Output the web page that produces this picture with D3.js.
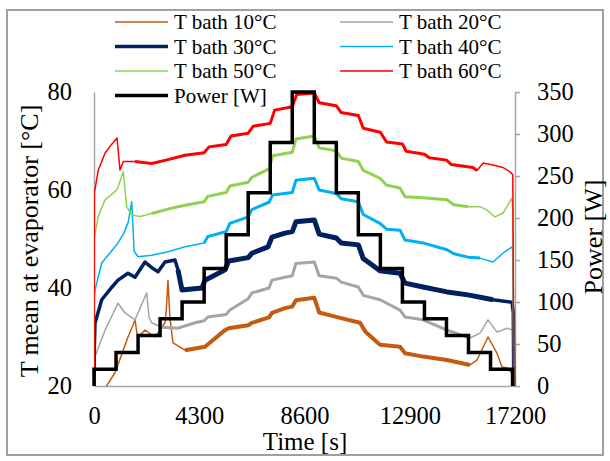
<!DOCTYPE html>
<html><head><meta charset="utf-8">
<script src="https://cdn.jsdelivr.net/npm/d3@7"></script>
<style>
body{margin:0;background:#fff;}
svg{display:block;}
</style>
</head><body>
<svg id="chart" width="610" height="461"></svg>
<script>
// ---------------- DATA ----------------
const seriesLabels = ["T bath 10°C","T bath 20°C","T bath 30°C","T bath 40°C","T bath 50°C","T bath 60°C"];

const time10 = [420, 858, 1100, 1389, 1600, 1675, 1750, 1798, 2084, 2492, 2901, 2960, 3023, 3100, 3228, 3718, 4535, 5352, 5500, 6300, 6455, 7150, 7272, 7803, 8100, 8250, 9000, 9200, 10050, 10867, 11100, 11685, 12502, 12706, 13441, 14422, 15361, 15647, 16097, 16464, 16669, 16873, 17100, 17150];
const temp10 = [19.3, 22.7, 26, 30, 32.5, 33.5, 31, 30, 31.4, 30, 32.9, 36, 41.6, 34, 28.8, 27.3, 28, 31.4, 31.8, 32.4, 32.9, 34, 34.9, 35.9, 36.2, 37.5, 38, 35, 33.9, 32.9, 31, 28.4, 28, 26.7, 26, 25.3, 24.3, 25.3, 30, 26.7, 23.9, 23.7, 22.5, 20];

const time20 = [0, 15, 41, 449, 800, 981, 1267, 1675, 2153, 2250, 2357, 2766, 3432, 4126, 4500, 4650, 5400, 5550, 6300, 6455, 7150, 7272, 7803, 8100, 8250, 9000, 9200, 9900, 10100, 10800, 11000, 11685, 12502, 12706, 13441, 14422, 15361, 15770, 16097, 16464, 16873, 17118, 17150];
const temp20 = [20, 23.3, 26, 31.4, 35, 36.9, 34.9, 33.5, 39, 34, 32.9, 32, 31.8, 32.9, 33.3, 34.1, 34.6, 35.5, 37.8, 39, 40, 41.6, 42.2, 42.5, 45, 45.3, 42.5, 42, 41.2, 40.2, 38.5, 37.6, 35.5, 34.1, 33.5, 31.4, 29.8, 30.8, 33.5, 31, 31.8, 31.4, 20];

const time30 = [0, 15, 41, 315, 700, 981, 1389, 1675, 2084, 2400, 2615, 2901, 3309, 3432, 3595, 4412, 4535, 5352, 5500, 6300, 6455, 7109, 7272, 7803, 8100, 8250, 9000, 9200, 9900, 10100, 10800, 11000, 11685, 12502, 12706, 13441, 14422, 15280, 16301, 17078, 17130, 17150];
const temp30 = [20, 28, 32.8, 37.6, 40, 41.6, 43, 42.2, 45.3, 44, 43.3, 45.3, 45.7, 43.7, 39.6, 40, 41.6, 43.7, 45.5, 46.2, 47.1, 48.4, 50.4, 51.2, 51.5, 53.5, 53.9, 51, 50.2, 49.2, 48.8, 46, 43.5, 43, 41, 40.2, 39.2, 38.6, 37.6, 37.1, 35, 20];

const time40 = [0, 15, 41, 315, 858, 981, 1200, 1400, 1540, 1640, 1798, 2357, 3023, 3718, 4500, 4650, 5400, 5550, 6300, 6450, 7150, 7300, 8100, 8250, 9000, 9200, 9900, 10100, 10800, 11000, 11685, 11950, 12502, 12706, 13441, 14422, 14700, 15280, 15770, 16301, 16710, 17078, 17118, 17150];
const temp40 = [20, 38.2, 39.6, 45.1, 48.4, 49.2, 51, 53.5, 57.6, 47.5, 46.4, 46.7, 47.4, 48.4, 49.2, 50.5, 51.5, 53.2, 54.5, 56, 57.5, 59, 59.5, 62, 62.4, 60, 59.3, 58.2, 57.6, 55, 53.2, 52, 51.8, 49.8, 49.2, 47.8, 47, 46.3, 46.1, 45.3, 47.1, 48.4, 47.1, 20];

const time50 = [0, 15, 176, 449, 700, 927, 981, 1197, 1336, 1540, 1879, 2357, 3174, 3718, 4500, 4650, 5400, 5550, 6300, 6450, 7150, 7300, 8100, 8250, 9000, 9200, 9900, 10100, 10800, 11000, 11685, 11950, 12500, 12706, 13441, 14422, 14700, 15280, 15770, 16056, 16383, 16710, 17078, 17118, 17150];
const temp50 = [20, 50.4, 54.6, 58, 59, 60, 60.6, 63.7, 56.6, 54.9, 54.6, 55.2, 56.3, 56.9, 57.6, 58.7, 59.5, 60.8, 61.6, 62.6, 64.3, 67, 67.7, 70.4, 71, 68.6, 68, 66.5, 65.8, 64, 62.4, 61, 60.4, 58.6, 58.4, 58, 57, 56.6, 56.6, 55.9, 54.5, 55.3, 58.4, 55.3, 20];

const time60 = [0, 15, 176, 449, 700, 940, 1062, 1197, 1675, 2357, 3023, 3718, 4500, 4700, 5400, 5600, 6300, 6500, 7200, 7380, 8100, 8280, 9000, 9200, 9900, 10100, 10800, 11000, 11700, 11950, 12600, 12750, 13500, 13700, 14400, 14600, 15480, 15650, 15900, 16300, 16700, 17000, 17110, 17150];
const temp60 = [20, 59.4, 64.1, 67.5, 69.2, 70.6, 64.1, 65.8, 65.8, 65.4, 66.2, 67.1, 67.6, 68.8, 69.3, 71, 71.6, 73, 73.6, 76.3, 77, 79.5, 79.8, 77.8, 77.2, 75.8, 75.2, 72.6, 71.8, 69.8, 69.4, 67.9, 67.3, 66.6, 66.1, 65.2, 64.6, 64.0, 65.5, 65.1, 64.6, 63.7, 63.1, 20];

const powerTime  = [0, 0, 900, 1800, 2700, 3600, 4500, 5400, 6300, 7200, 8100, 9000, 9900, 10800, 11700, 12600, 13500, 14400, 15300, 16200, 17100];
const powerValue = [0, 20, 40, 60, 80, 100, 140, 180, 230, 290, 350, 290, 230, 180, 140, 100, 80, 60, 40, 20, 0];

const tempTicks  = [20, 40, 60, 80];
const powerTicks = [0, 50, 100, 150, 200, 250, 300, 350];
const timeTicks  = [0, 4300, 8600, 12900, 17200];

// ---------------- STYLE ----------------
const seriesTimes = [time10, time20, time30, time40, time50, time60];
const seriesTemps = [temp10, temp20, temp30, temp40, temp50, temp60];
const styles = [
  {color:"#c55a11", w:1.5, nw:4,   noisy:[3250,15550], lw:1.5},
  {color:"#a5a5a5", w:1.5, nw:3,   noisy:[2700,15700], lw:1.5},
  {color:"#002060", w:3.5, nw:5,   noisy:[3400,17000], lw:3.5},
  {color:"#00b0f0", w:1.5, nw:3,   noisy:[4100,16200], lw:1.5},
  {color:"#92d050", w:1.5, nw:3,   noisy:[1950,15300], lw:1.5},
  {color:"#ff0000", w:1.5, nw:3,   noisy:[1300,15650], lw:1.5}
];
const FONT = "'Liberation Serif','Times New Roman',serif";
const axisGray = "#a6a6a6";

const svg = d3.select("#chart");
const L = 94, R = 515, T = 92, B = 386;

// frame
svg.append("rect").attr("x",7).attr("y",10).attr("width",596).attr("height",445)
  .attr("fill","#fff").attr("stroke","#a0a0a0").attr("stroke-width",2);

const x  = d3.scaleLinear().domain([0,17200]).range([L,R]);
const yT = d3.scaleLinear().domain([20,80]).range([B,T]);
const yP = d3.scaleLinear().domain([0,350]).range([B,T]);

svg.append("clipPath").attr("id","plotclip").append("rect")
  .attr("x",L).attr("y",T-6).attr("width",R-L+2).attr("height",B-T+6);

// axes
function styleAxis(g, size){
  g.attr("font-family",FONT).attr("font-size",size);
  g.selectAll(".domain").attr("stroke",axisGray).attr("stroke-width",1.5);
  g.selectAll(".tick line").attr("stroke",axisGray).attr("stroke-width",1.5);
  g.selectAll(".tick text").attr("fill","#000");
}
const gL = svg.append("g").attr("transform",`translate(${L},0)`)
  .call(d3.axisLeft(yT).tickValues(tempTicks).tickSize(0).tickSizeOuter(0).tickPadding(22));
styleAxis(gL, 24.5);
const gR = svg.append("g").attr("transform",`translate(${R},0)`)
  .call(d3.axisRight(yP).tickValues(powerTicks).tickSize(5).tickSizeOuter(0).tickPadding(17));
styleAxis(gR, 24.5);
const gB = svg.append("g").attr("transform",`translate(0,${B})`)
  .call(d3.axisBottom(x).tickValues(timeTicks).tickFormat(d3.format("d")).tickSize(0).tickSizeOuter(0).tickPadding(21));
styleAxis(gB, 24.5);

// titles
svg.append("text").attr("transform","translate(38,241) rotate(-90)")
  .attr("text-anchor","middle").attr("font-family",FONT).attr("font-size",26).text("T mean at evaporator [°C]");
svg.append("text").attr("transform","translate(602,237) rotate(-90)")
  .attr("text-anchor","middle").attr("font-family",FONT).attr("font-size",26).text("Power [W]");
svg.append("text").attr("x",305).attr("y",450)
  .attr("text-anchor","middle").attr("font-family",FONT).attr("font-size",25).text("Time [s]");

// lines
const plot = svg.append("g").attr("clip-path","url(#plotclip)");
const lineT = d3.line().x(d=>x(d[0])).y(d=>yT(d[1]));
seriesTimes.forEach((ts,i)=>{
  const pts = ts.map((t,j)=>[t, seriesTemps[i][j]]);
  const s = styles[i];
  plot.append("path").attr("d",lineT(pts)).attr("fill","none")
    .attr("stroke",s.color).attr("stroke-width",s.w).attr("stroke-linejoin","round");
  const sub = pts.filter(p=>p[0]>=s.noisy[0] && p[0]<=s.noisy[1]);
  plot.append("path").attr("d",lineT(sub)).attr("fill","none")
    .attr("stroke",s.color).attr("stroke-width",s.nw).attr("stroke-linejoin","round");
});

const linePow = d3.line().x(d=>x(d[0])).y(d=>yP(d[1])).curve(d3.curveStepAfter);
svg.append("path").attr("d",linePow(powerTime.map((t,j)=>[t,powerValue[j]])))
  .attr("fill","none").attr("stroke","#000").attr("stroke-width",3.5).attr("stroke-linejoin","miter");

// legend
const legendItems = seriesLabels.map((l,i)=>({label:l,color:styles[i].color,w:styles[i].lw}))
  .concat([{label:"Power [W]",color:"#000",w:3.5}]);
const rowsY = [22, 46.5, 71, 95.5];
legendItems.forEach((d,i)=>{
  const col = i===6 ? 0 : i%2, row = i===6 ? 3 : Math.floor(i/2);
  const lx = col===0 ? 115 : 340;
  const yy = rowsY[row];
  svg.append("line").attr("x1",lx).attr("x2",lx+53).attr("y1",yy).attr("y2",yy)
    .attr("stroke",d.color).attr("stroke-width",d.w);
  svg.append("text").attr("x",lx+59).attr("y",yy+7).attr("font-family",FONT)
    .attr("font-size",21).text(d.label);
});
</script>
</body></html>
